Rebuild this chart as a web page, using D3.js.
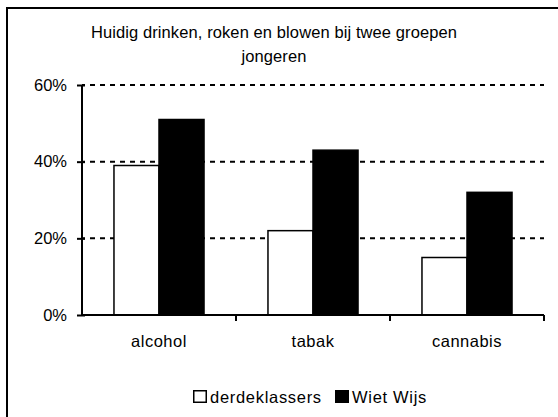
<!DOCTYPE html>
<html>
<head>
<meta charset="utf-8">
<script src="https://cdn.jsdelivr.net/npm/d3@7"></script>
<style>
html,body{margin:0;padding:0;background:#fff;}
svg{display:block;}
text{font-family:"Liberation Sans",Arial,sans-serif;fill:#000;}
</style>
</head>
<body>
<svg id="chart" width="558" height="417"></svg>
<script>
const titleLines = ["Huidig drinken, roken en blowen bij twee groepen", "jongeren"];
const categories = ["alcohol", "tabak", "cannabis"];
const seriesNames = ["derdeklassers", "Wiet Wijs"];
const derdeklassers = [39, 22, 15];
const wietWijs = [51, 43, 32];
const yTicks = [0, 20, 40, 60];
const seriesFill = ["#ffffff", "#000000"];

const values = [derdeklassers, wietWijs];
const data = categories.map((c, i) => ({cat: c, vals: seriesNames.map((s, j) => ({s, j, v: values[j][i]}))}));

const svg = d3.select("#chart");
const pLeft = 82, pRight = 544, pTop = 85, pBottom = 315;

// outer border (extends beyond the picture on right and bottom)
svg.append("rect").attr("x", 7).attr("y", 8).attr("width", 600).attr("height", 500)
  .attr("fill", "none").attr("stroke", "#000").attr("stroke-width", 2);

// title
svg.append("g").selectAll("text").data(titleLines).join("text")
  .attr("x", 274).attr("y", (d, i) => 38 + i * 24)
  .attr("text-anchor", "middle").attr("font-size", 16.5).attr("letter-spacing", 0.1)
  .text(d => d);

const x0 = d3.scaleBand().domain(categories).range([pLeft, pRight]).padding(0);
const x1 = d3.scaleBand().domain(seriesNames).range([0, x0.bandwidth()]).paddingInner(0).paddingOuter(0.71);
const y = d3.scaleLinear().domain([0, 60]).range([pBottom, pTop]);

// gridlines
svg.append("g").selectAll("line").data(yTicks.filter(t => t > 0)).join("line")
  .attr("x1", pLeft).attr("x2", pRight)
  .attr("y1", d => y(d)).attr("y2", d => y(d))
  .attr("stroke", "#000").attr("stroke-width", 2)
  .attr("stroke-dasharray", "5,5").attr("stroke-dashoffset", 2);

// bars
const g = svg.append("g");
g.selectAll("g").data(data).join("g")
  .attr("transform", d => `translate(${x0(d.cat)},0)`)
  .selectAll("rect").data(d => d.vals).join("rect")
  .attr("x", d => x1(d.s)).attr("width", x1.bandwidth())
  .attr("y", d => y(d.v)).attr("height", d => y(0) - y(d.v))
  .attr("fill", d => seriesFill[d.j])
  .attr("stroke", "#000").attr("stroke-width", 1.5);

// y axis
const yAxis = d3.axisLeft(y).tickValues(yTicks).tickFormat(d => d + "%").tickSize(5).tickPadding(10);
const ya = svg.append("g").attr("transform", `translate(${pLeft},0)`).call(yAxis);
ya.select(".domain").attr("stroke-width", 2).attr("d", `M0,${pTop}V${pBottom}`);
ya.selectAll(".tick line").attr("stroke-width", 2).attr("x1", 3);
ya.selectAll(".tick text").attr("font-size", 16.5).attr("font-family", "Liberation Sans, Arial, sans-serif").attr("fill", "#000");

// x axis
const xa = svg.append("g").attr("transform", `translate(0,${pBottom})`)
  .call(d3.axisBottom(x0).tickSize(0).tickPadding(0));
xa.select(".domain").attr("stroke-width", 2).attr("d", `M${pLeft},0H${pRight}`);
xa.selectAll(".tick text").remove();
xa.selectAll(".tick line").remove();
// category boundary ticks
const bounds = categories.map(c => x0(c) + x0.bandwidth());
xa.append("g").selectAll("line").data(bounds).join("line")
  .attr("x1", d => d).attr("x2", d => d).attr("y1", 0).attr("y2", 6)
  .attr("stroke", "#000").attr("stroke-width", 2);
svg.append("g").selectAll("text").data(categories).join("text")
  .attr("x", d => x0(d) + x0.bandwidth() / 2).attr("y", 347)
  .attr("text-anchor", "middle").attr("font-size", 16.5).attr("letter-spacing", 0.5)
  .text(d => d);

// legend
const legendX = [193, 335];
const lg = svg.append("g").selectAll("g").data(seriesNames).join("g")
  .attr("transform", (d, i) => `translate(${legendX[i]},390)`);
lg.append("rect").attr("x", 0.75).attr("y", 0.75).attr("width", 12.5).attr("height", 11.5)
  .attr("fill", (d, i) => seriesFill[i]).attr("stroke", "#000").attr("stroke-width", 1.5);
lg.append("text").attr("x", 17).attr("y", 13).attr("font-size", 16.5).attr("letter-spacing", 0.7).text(d => d);
</script>
</body>
</html>
